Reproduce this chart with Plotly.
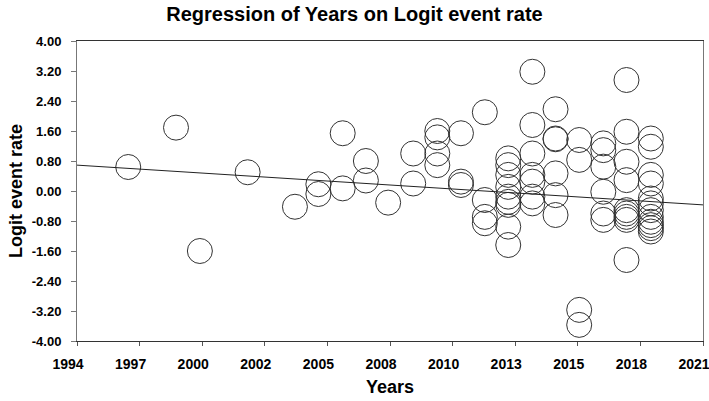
import plotly.graph_objects as go

years = [1996.21, 1998.27, 1999.30, 2001.36, 2003.40, 2004.41, 2004.41, 2005.46, 2005.46,
         2006.46, 2006.46, 2007.42, 2008.50, 2008.50,
         2009.54, 2009.54, 2009.54, 2009.54,
         2010.56, 2010.56, 2010.56,
         2011.59, 2011.59, 2011.59, 2011.59,
         2012.60, 2012.60, 2012.60, 2012.60, 2012.60, 2012.60, 2012.60, 2012.60, 2012.60,
         2013.64, 2013.64, 2013.64, 2013.64, 2013.64, 2013.64, 2013.64,
         2014.64, 2014.64, 2014.64, 2014.64, 2014.64, 2014.64,
         2015.66, 2015.66, 2015.66, 2015.66,
         2016.70, 2016.70, 2016.70, 2016.70, 2016.70, 2016.70,
         2017.70, 2017.70, 2017.70, 2017.70, 2017.70, 2017.70, 2017.70, 2017.70, 2017.70,
         2018.75, 2018.75, 2018.75, 2018.75, 2018.75, 2018.75, 2018.75, 2018.75, 2018.75,
         2018.75, 2018.75, 2018.75]
logit = [0.64, 1.69, -1.60, 0.50, -0.42, 0.18, -0.08, 1.54, 0.07,
         0.80, 0.28, -0.31, 1.00, 0.20,
         1.60, 1.43, 1.00, 0.69,
         1.54, 0.25, 0.16,
         2.10, -0.24, -0.69, -0.86,
         0.87, 0.69, 0.43, 0.11, -0.15, -0.29, -0.37, -0.95, -1.44,
         3.18, 1.76, 1.00, 0.43, 0.25, -0.15, -0.33,
         2.18, 1.40, 1.38, 0.47, -0.11, -0.64,
         1.36, 0.83, -3.17, -3.57,
         1.27, 1.09, 0.65, -0.02, -0.60, -0.77,
         2.96, 1.58, 0.78, 0.29, -0.51, -0.60, -0.69, -0.77, -1.84,
         1.40, 1.18, 0.43, 0.20, -0.20, -0.33, -0.51, -0.69, -0.82,
         -0.91, -0.99, -1.08]

reg_x = [1994, 2021]
reg_y = [0.69, -0.37]

x_tickvals = [round(1994 + 2.7 * i, 2) for i in range(11)]
x_ticktext = ["1994", "1997", "2000", "2002", "2005", "2008", "2010", "2013", "2015", "2018", "2021"]
y_tickvals = [round(-4.0 + 0.8 * i, 2) for i in range(11)]
y_ticktext = ["%.2f" % v for v in y_tickvals]

FONT = "Liberation Sans, Arial, sans-serif"

fig = go.Figure()
fig.add_trace(go.Scatter(
    x=years, y=logit, mode="markers",
    marker=dict(symbol="circle-open", size=25, color="#333333", line=dict(width=1, color="#333333")),
    showlegend=False, hoverinfo="x+y"))
fig.add_trace(go.Scatter(
    x=reg_x, y=reg_y, mode="lines",
    line=dict(color="#222222", width=1), showlegend=False))

fig.update_layout(
    width=709, height=401,
    margin=dict(l=77, r=6, t=41, b=60, autoexpand=False),
    paper_bgcolor="white", plot_bgcolor="white",
    font=dict(family=FONT, color="black"),
    title=dict(text="<b>Regression of Years on Logit event rate</b>",
               x=0.5, xanchor="center", y=0.965, yanchor="middle",
               font=dict(size=20, family=FONT, color="black")),
)
fig.update_xaxes(
    range=[1994, 2021], tickmode="array", tickvals=x_tickvals, ticktext=x_ticktext,
    showgrid=False, zeroline=False, showline=True, linecolor="#333", linewidth=1, mirror=True,
    ticks="outside", ticklen=4, tickcolor="#555", ticklabelstandoff=6, ticklabelshift=-9,
    ticklabeloverflow="allow", automargin=False,
    tickfont=dict(size=14, family=FONT, color="black", weight="bold"),
    title=dict(text="<b>Years</b>", font=dict(size=18, family=FONT, color="black"), standoff=9))
fig.update_yaxes(
    range=[-4, 4], tickmode="array", tickvals=y_tickvals, ticktext=y_ticktext,
    showgrid=False, zeroline=False, showline=True, linecolor="#777", linewidth=1, mirror=True,
    ticks="outside", ticklen=5, tickcolor="#777", ticklabelstandoff=7, automargin=False,
    tickfont=dict(size=13, family=FONT, color="black", weight="bold"),
    title=dict(text="<b>Logit event rate</b>", font=dict(size=18, family=FONT, color="black"), standoff=4))

fig.write_html("out.html", config={"displayModeBar": False},
               post_script="document.body.style.margin='0';document.body.style.padding='0';")
